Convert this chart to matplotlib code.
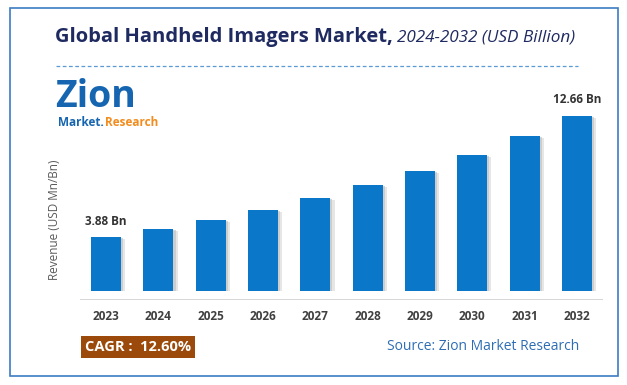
import matplotlib.pyplot as plt
from matplotlib.patches import Rectangle
from matplotlib.lines import Line2D

W, H = 627, 385

years = ['2023', '2024', '2025', '2026', '2027', '2028', '2029', '2030', '2031', '2032']
revenue = [3.88, 4.46, 5.11, 5.83, 6.70, 7.64, 8.68, 9.81, 11.21, 12.66]
first_label = '3.88 Bn'
last_label = '12.66 Bn'

plt.rcParams['font.family'] = ['Open Sans', 'DejaVu Sans']


def fx(x):
    return x / W


def fy(y):
    return 1 - y / H


fig = plt.figure(figsize=(W / 100, H / 100), dpi=100)
fig.patch.set_facecolor('white')
renderer = fig.canvas.get_renderer()

# outer frame
fig.add_artist(Rectangle((fx(10), fy(376)), fx(608), (376 - 8) / H,
                         transform=fig.transFigure, fill=False,
                         edgecolor='#3B7DC4', linewidth=1.2))

# title, two parts placed side by side
t1 = fig.text(fx(52), fy(37), 'Global Handheld Imagers Market,', fontsize=14.5,
              fontweight='bold', color='#1F2A60', va='center', ha='left')
w1 = t1.get_window_extent(renderer).width
t2 = fig.text(fx(52 + w1 + 4), fy(38), '2024-2032 (USD Billion)', fontsize=12.3,
              fontstyle='italic', color='#1F2A60', va='center', ha='left')
w2 = t2.get_window_extent(renderer).width
start = (52 + 578) / 2 - (w1 + 4 + w2) / 2
t1.set_x(fx(start))
t2.set_x(fx(start + w1 + 4))

fig.add_artist(Line2D([fx(56), fx(578)], [fy(66), fy(66)], transform=fig.transFigure,
                      color='#5B9BD5', linewidth=0.9, linestyle=(0, (3, 2))))

# logo
fig.text(fx(55), fy(97), 'Zion', fontsize=27, fontweight='bold', color='#1565B0',
         va='center', ha='left')
m = fig.text(fx(58), fy(122), 'Market.', fontsize=8.5, fontweight='bold', color='#1565B0',
             va='center', ha='left')
mw = m.get_window_extent(renderer).width
fig.text(fx(59 + mw), fy(122), 'Research', fontsize=8.5, fontweight='bold', color='#F28C1E',
         va='center', ha='left')

# chart
ax = fig.add_axes([fx(80), fy(300), (603 - 80) / W, (300 - 100) / H])
x = list(range(len(years)))
ax.bar([i + 0.08 for i in x], [v - 0.15 for v in revenue], width=0.574, color='#D6D6D6',
       alpha=0.6, zorder=1)
ax.bar([i + 0.04 for i in x], [v - 0.08 for v in revenue], width=0.574, color='#BDBDBD',
       alpha=0.6, zorder=1)
ax.bar(x, revenue, width=0.574, color='#0A77C9', zorder=2)
ax.set_xlim(-0.5, len(years) - 0.5)
ax.set_ylim(-0.657, 13.81)
ax.set_xticks(x)
ax.set_xticklabels(years, fontsize=8.5, fontweight='bold', color='#404040')
ax.tick_params(axis='x', length=0, pad=7)
ax.set_yticks([])
for s in ['top', 'right', 'left', 'bottom']:
    ax.spines[s].set_visible(False)
ax.axhline(-0.657, color='#D0D0D0', linewidth=1.2, zorder=3)
ax.set_ylabel('Revenue (USD Mn/Bn)', fontsize=8.5, color='#595959')
ax.yaxis.set_label_coords(-0.037, 0.4)

ax.annotate(first_label, (x[0], revenue[0]), xytext=(0, 7), textcoords='offset points',
            ha='center', va='bottom', fontsize=8.5, fontweight='bold', color='#333333')
ax.annotate(last_label, (x[-1], revenue[-1]), xytext=(0, 7), textcoords='offset points',
            ha='center', va='bottom', fontsize=8.5, fontweight='bold', color='#333333')

# footer
fig.text(fx(138), fy(347), 'CAGR :  12.60%', fontsize=10.5, fontweight='bold', color='white',
         va='center', ha='center',
         bbox=dict(boxstyle='square,pad=0.3', facecolor='#9C4A0C', edgecolor='none'))
fig.text(fx(579), fy(346), 'Source: Zion Market Research', fontsize=10, color='#2E6DB4',
         va='center', ha='right')

fig.savefig('out.png', dpi=100)
